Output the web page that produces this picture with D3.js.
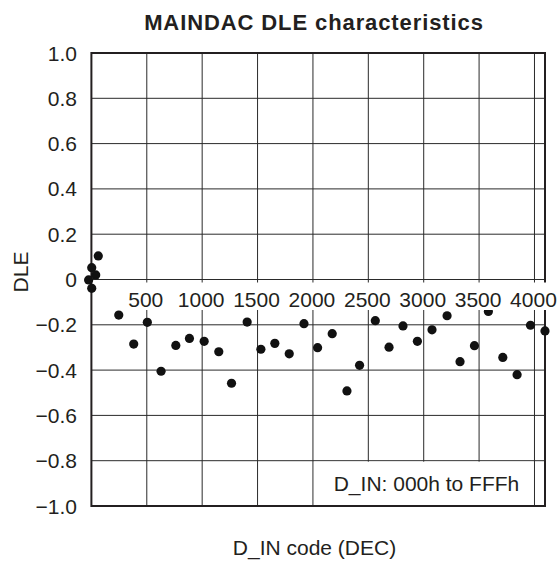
<!DOCTYPE html>
<html>
<head>
<meta charset="utf-8">
<script src="https://cdn.jsdelivr.net/npm/d3@7"></script>
<style>
  html, body { margin: 0; padding: 0; background: #fff; }
  svg { display: block; font-family: "Liberation Sans", Arial, Helvetica, sans-serif; }
</style>
</head>
<body>
<svg id="chart" width="560" height="566"></svg>
<script>
// ---- data ----
const codes = [62, 3, 39, -25, 3, 247, 382, 505, 629, 762, 885, 1018, 1150, 1265, 1406, 1530, 1656, 1786,
  1919, 2042, 2174, 2307, 2421, 2563, 2687, 2813, 2943, 3075, 3211, 3328, 3458, 3584, 3714, 3843, 3964, 4095];
const dle = [0.104, 0.052, 0.02, -0.002, -0.039, -0.157, -0.285, -0.189, -0.405, -0.291, -0.26, -0.273, -0.319, -0.458,
  -0.188, -0.308, -0.282, -0.328, -0.195, -0.301, -0.239, -0.492, -0.379, -0.182, -0.299, -0.205, -0.273,
  -0.222, -0.16, -0.363, -0.292, -0.141, -0.344, -0.42, -0.202, -0.227];
const xTicks = [500, 1000, 1500, 2000, 2500, 3000, 3500, 4000];
const yTicks = [1.0, 0.8, 0.6, 0.4, 0.2, 0, -0.2, -0.4, -0.6, -0.8, -1.0];
const title = "MAINDAC DLE characteristics";
const xLabel = "D_IN code (DEC)";
const yLabel = "DLE";
const legendText = "D_IN: 000h to FFFh";

const svg = d3.select("#chart");
const L = 91.4, R = 545, T = 53, B = 506;
const FS = 21;
const x = d3.scaleLinear().domain([0, 4095]).range([L, R]);
const y = d3.scaleLinear().domain([-1, 1]).range([B, T]);

const fmtY = v => v === 0 ? "0" : (v < 0 ? "\u2212" : "") + Math.abs(v).toFixed(1);

// gridlines
const grid = svg.append("g").attr("stroke", "#2a2a2a").attr("stroke-width", 1);
grid.selectAll("line.h").data(yTicks.filter(v => v !== 1 && v !== -1)).join("line")
  .attr("x1", L).attr("x2", R).attr("y1", d => y(d)).attr("y2", d => y(d));
grid.selectAll("line.v").data(xTicks).join("line")
  .attr("x1", d => x(d)).attr("x2", d => x(d)).attr("y1", T).attr("y2", B);

// legend box (white, covers gridlines)
svg.append("rect")
  .attr("x", x(2000) + 1).attr("y", y(-0.8) + 1)
  .attr("width", x(4000) - x(2000) - 2).attr("height", B - y(-0.8) - 2)
  .attr("fill", "#fff");
svg.append("text")
  .attr("x", 426.5).attr("y", 490.5)
  .attr("text-anchor", "middle").attr("font-size", FS).attr("fill", "#231f20")
  .text(legendText);

// frame
svg.append("rect").attr("x", L).attr("y", T).attr("width", R - L).attr("height", B - T)
  .attr("fill", "none").attr("stroke", "#231f20").attr("stroke-width", 2);

// points
svg.append("g").selectAll("circle").data(codes.map((c, i) => [c, dle[i]])).join("circle")
  .attr("cx", d => x(d[0])).attr("cy", d => y(d[1])).attr("r", 4.6).attr("fill", "#111");

// x tick labels along zero line with white background
const xl = svg.append("g");
xTicks.forEach(t => {
  const g = xl.append("g");
  const tx = g.append("text")
    .attr("x", x(t) - 1).attr("y", 307)
    .attr("text-anchor", "middle").attr("font-size", FS).attr("fill", "#231f20")
    .text(t);
  const bb = tx.node().getBBox();
  g.insert("rect", "text")
    .attr("x", bb.x - 3).attr("y", 282.5).attr("width", bb.width + 6).attr("height", 27.5)
    .attr("fill", "#fff");
});

// y tick labels
svg.append("g").selectAll("text").data(yTicks).join("text")
  .attr("x", 77).attr("y", d => y(d)).attr("dy", "0.36em")
  .attr("text-anchor", "end").attr("font-size", FS).attr("fill", "#231f20")
  .text(fmtY);

// title & axis labels
svg.append("text").attr("x", 314).attr("y", 30).attr("text-anchor", "middle")
  .attr("font-size", 22).attr("font-weight", "bold").attr("letter-spacing", 0.9)
  .attr("fill", "#231f20").text(title);
svg.append("text").attr("x", 314.5).attr("y", 555).attr("text-anchor", "middle")
  .attr("font-size", FS).attr("fill", "#231f20").text(xLabel);
svg.append("text").attr("transform", "translate(28,272) rotate(-90)").attr("text-anchor", "middle")
  .attr("font-size", FS).attr("fill", "#231f20").text(yLabel);
</script>
</body>
</html>
